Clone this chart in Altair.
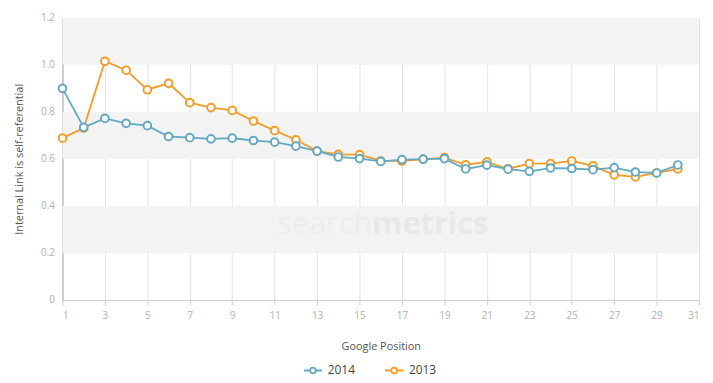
import altair as alt
import pandas as pd

positions = list(range(1, 31))
series_2014 = [0.900, 0.734, 0.772, 0.751, 0.741, 0.695, 0.690, 0.685, 0.688, 0.678,
               0.671, 0.654, 0.633, 0.608, 0.601, 0.589, 0.597, 0.599, 0.601, 0.557,
               0.573, 0.556, 0.547, 0.561, 0.559, 0.554, 0.563, 0.544, 0.540, 0.574]
series_2013 = [0.688, 0.731, 1.015, 0.977, 0.894, 0.921, 0.839, 0.818, 0.806, 0.761,
               0.720, 0.681, 0.633, 0.619, 0.618, 0.591, 0.591, 0.598, 0.605, 0.575,
               0.587, 0.558, 0.580, 0.580, 0.591, 0.570, 0.532, 0.523, 0.540, 0.557]
series_names = ["2014", "2013"]
series_colors = ["#62a9c1", "#f59b28"]
band_lo = [0.2, 0.6, 1.0]
band_hi = [0.4, 0.8, 1.2]
x_ticks = list(range(1, 32, 2))
y_ticks = [0, 0.2, 0.4, 0.6, 0.8, 1.0, 1.2]

rows = []
for p, v in zip(positions, series_2013):
    rows.append({"pos": p, "val": v, "series": "2013"})
for p, v in zip(positions, series_2014):
    rows.append({"pos": p, "val": v, "series": "2014"})
df = pd.DataFrame(rows)

bands = pd.DataFrame({"lo": band_lo, "hi": band_hi, "x1": [1] * 3, "x2": [31] * 3})

FONT = "Open Sans"

xscale = alt.Scale(domain=[1, 31], nice=False, zero=False)
yscale = alt.Scale(domain=[0, 1.2], nice=False)

band_layer = alt.Chart(bands).mark_rect(color="#f3f3f3").encode(
    x=alt.X("x1:Q", scale=xscale,
            axis=alt.Axis(values=x_ticks, title="Google Position", grid=True,
                          gridColor="#e2e2e2", domainColor="#cccccc",
                          tickColor="#cccccc", tickSize=5, labelColor="#b0b0b0",
                          labelFontSize=10, labelFont=FONT, labelPadding=6,
                          titleFont=FONT, titleFontSize=11, titleColor="#555555",
                          titleFontWeight="normal", titlePadding=20)),
    x2="x2:Q",
    y=alt.Y("lo:Q", scale=yscale,
            axis=alt.Axis(values=y_ticks, title="Internal Link is self-referential",
                          grid=False, domainColor="#cccccc", domainWidth=2,
                          ticks=False, labelColor="#b0b0b0", labelFontSize=10,
                          labelFont=FONT, labelPadding=8,
                          labelExpr="datum.value == 0 ? '0' : format(datum.value, '.1f')",
                          titleFont=FONT, titleFontSize=11, titleColor="#555555",
                          titleFontWeight="normal", titlePadding=16)),
    y2="hi:Q",
)

wm1 = alt.Chart(pd.DataFrame({"t": ["search"]})).mark_text(
    font=FONT, fontSize=31, color="#ededed", align="right", baseline="alphabetic"
).encode(text="t:N", x=alt.value(313), y=alt.value(218))
wm2 = alt.Chart(pd.DataFrame({"t": ["metrics"]})).mark_text(
    font=FONT, fontSize=31, fontWeight="bold", color="#e8e8e8", align="left",
    baseline="alphabetic"
).encode(text="t:N", x=alt.value(313), y=alt.value(218))

color = alt.Color("series:N", scale=alt.Scale(domain=series_names, range=series_colors),
                  legend=alt.Legend(
                      title=None, orient="none", direction="horizontal",
                      legendX=246, legendY=349,
                      symbolType="M-1.6,0H-0.5M0.5,0H1.6M0.5,0A0.5,0.5 0 1,1 -0.5,0A0.5,0.5 0 1,1 0.5,0",
                      symbolSize=130, symbolStrokeWidth=1.8, symbolFillColor="white",
                      labelFont=FONT, labelFontSize=12, labelColor="#444444",
                      labelOffset=8, columnPadding=26))

lines = alt.Chart(df).mark_line(strokeWidth=1.8).encode(
    x=alt.X("pos:Q", scale=xscale),
    y=alt.Y("val:Q", scale=yscale),
    color=color,
)
points = alt.Chart(df).mark_point(filled=True, fill="white", size=60, strokeWidth=2,
                                  opacity=1).encode(
    x=alt.X("pos:Q", scale=xscale),
    y=alt.Y("val:Q", scale=yscale),
    stroke=alt.Stroke("series:N", scale=alt.Scale(domain=series_names, range=series_colors),
                      legend=None),
)

chart = alt.layer(band_layer, wm1, wm2, lines, points).properties(
    width=643, height=285,
    padding={"left": 55, "top": 8, "right": 6, "bottom": 78},
    autosize=alt.AutoSizeParams(type="none"),
).configure_view(stroke=None)

chart.save("out.html", embed_options={"renderer": "svg", "actions": False})
